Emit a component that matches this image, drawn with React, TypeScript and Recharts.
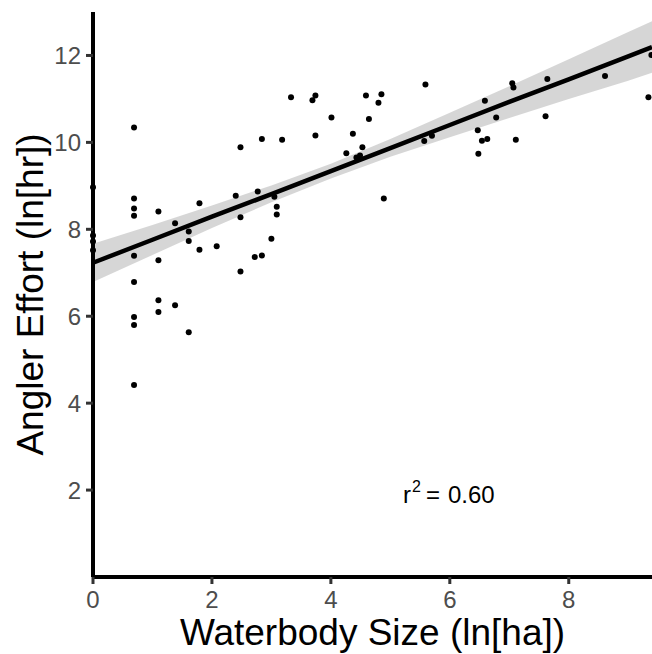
import {
  Area,
  ComposedChart,
  Customized,
  Label,
  Line,
  Scatter,
  XAxis,
  YAxis,
} from "recharts";

// waterbody size (ln ha) and angler effort (ln hr)
const sizes = [
  0.69, 2.48, 2.84, 3.18, 0.0, 0.69, 2.4, 2.77, 0.69, 0.69, 1.1, 1.38, 1.79,
  3.05, 3.09, 3.09, 2.48, 3.0, 1.61, 1.61, 1.79, 2.08, 0.0, 0.0, 0.0, 0.69, 1.1,
  2.72, 2.84, 2.48, 0.69, 1.1, 1.1, 1.38, 0.69, 0.69, 1.61, 0.69, 3.33, 3.69,
  3.74, 4.59, 4.85, 4.8, 5.59, 4.01, 4.64, 3.74, 4.37, 4.26, 4.53, 4.49, 4.43,
  5.57, 5.7, 6.47, 6.48, 4.89, 9.39, 9.34, 8.61, 7.64, 7.05, 7.07, 6.59, 6.78,
  7.61, 6.54, 6.63, 7.11,
];
const efforts = [
  10.34, 9.89, 10.08, 10.06, 8.97, 8.71, 8.77, 8.87, 8.48, 8.31, 8.41, 8.14,
  8.6, 8.75, 8.52, 8.34, 8.28, 7.78, 7.95, 7.73, 7.53, 7.61, 7.86, 7.72, 7.52,
  7.39, 7.29, 7.36, 7.4, 7.03, 6.79, 6.37, 6.1, 6.25, 5.98, 5.8, 5.63, 4.42,
  11.04, 10.97, 11.08, 11.08, 11.11, 10.91, 11.33, 10.57, 10.54, 10.16, 10.2,
  9.75, 9.89, 9.7, 9.65, 10.03, 10.15, 10.28, 9.74, 8.71, 12.01, 11.04, 11.53,
  11.46, 11.36, 11.26, 10.96, 10.57, 10.6, 10.04, 10.08, 10.06,
];

// fitted line and its confidence band
const fitX = [0, 1, 2, 3, 4, 5, 6, 7, 8, 9, 9.4];
const fitY = [7.23, 7.76, 8.29, 8.81, 9.34, 9.87, 10.4, 10.93, 11.45, 11.98, 12.19];
const bandLow = [6.79, 7.41, 8.03, 8.62, 9.17, 9.67, 10.12, 10.56, 11.0, 11.42, 11.6];
const bandHigh = [7.67, 8.1, 8.55, 9.01, 9.51, 10.08, 10.68, 11.29, 11.91, 12.54, 12.79];

const xTicks = [0, 2, 4, 6, 8];
const yTicks = [2, 4, 6, 8, 10, 12];

const points = sizes.map((x, i) => ({ x, y: efforts[i] }));
const fitRows = fitX.map((x, i) => ({
  x,
  fit: fitY[i],
  band: [bandLow[i], bandHigh[i]],
}));

const font = "'Liberation Sans', Arial, sans-serif";
const tickStyle = { fill: "#4d4d4d", fontSize: 24, fontFamily: font };
const titleStyle = { fill: "#000", fontSize: 37, fontFamily: font };

const RSquared = () => (
  <g fontFamily={font} fill="#000">
    <text x={403} y={503} fontSize={24}>
      r
    </text>
    <text x={412} y={492} fontSize={16}>
      2
    </text>
    <text x={426} y={503} fontSize={24}>
      =
    </text>
    <text x={448} y={503} fontSize={24}>
      0.60
    </text>
  </g>
);

const App = () => {
  return (
    <div style={{ position: "absolute", left: 0, top: 0 }}>
      <ComposedChart
        width={652}
        height={654}
        data={fitRows}
        margin={{ top: 12, right: 0, bottom: 0, left: 0 }}
      >
        <Scatter
          data={points}
          dataKey="y"
          isAnimationActive={false}
          shape={(p: any) => <circle cx={p.cx} cy={p.cy} r={3} fill="#000" />}
        />
        <Area
          dataKey="band"
          stroke="none"
          fill="#999999"
          fillOpacity={0.4}
          isAnimationActive={false}
        />
        <Line
          dataKey="fit"
          stroke="#000"
          strokeWidth={4.5}
          dot={false}
          isAnimationActive={false}
        />
        <XAxis
          dataKey="x"
          type="number"
          domain={[0, 9.4]}
          ticks={xTicks}
          height={77}
          axisLine={{ stroke: "#000", strokeWidth: 4 }}
          tickLine={{ stroke: "#333", strokeWidth: 3 }}
          tickSize={7}
          tickMargin={7}
          tick={tickStyle}
        >
          <Label
            value="Waterbody Size (ln[ha])"
            position="insideBottom"
            offset={9}
            style={titleStyle}
          />
        </XAxis>
        <YAxis
          type="number"
          domain={[0, 13]}
          ticks={yTicks}
          width={93}
          axisLine={{ stroke: "#000", strokeWidth: 4 }}
          tickLine={{ stroke: "#333", strokeWidth: 3 }}
          tickSize={7}
          tickMargin={5}
          tick={tickStyle}
        >
          <Label
            value="Angler Effort (ln[hr])"
            angle={-90}
            position="center"
            dx={-17}
            style={titleStyle}
          />
        </YAxis>
        <Customized component={RSquared} />
      </ComposedChart>
    </div>
  );
};

export default App;
